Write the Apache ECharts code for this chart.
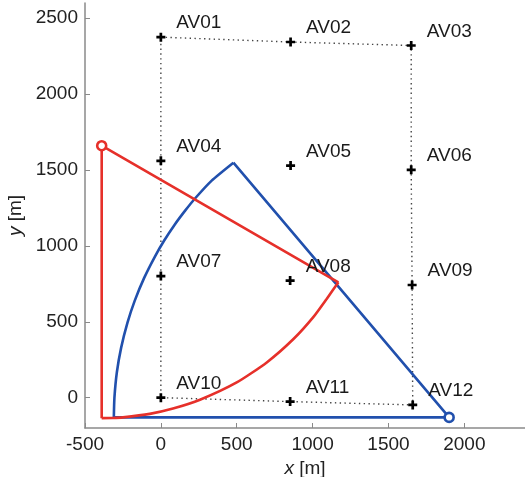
<!DOCTYPE html>
<html>
<head>
<meta charset="utf-8">
<script src="https://cdn.jsdelivr.net/npm/echarts@6/dist/echarts.min.js"></script>
<style>html,body{margin:0;padding:0;background:#fff;}#c{width:525px;height:477px;}</style>
</head>
<body>
<div id="c"></div>
<script>
// Measurement points
const avNames = ['AV01','AV02','AV03','AV04','AV05','AV06','AV07','AV08','AV09','AV10','AV11','AV12'];
const avX = [0, 855, 1650, 0, 855, 1650, 0, 852, 1656, 0, 852, 1660];
const avY = [2375, 2343, 2320, 1560, 1529, 1501, 801, 771, 742, 0, -26, -48];
// perimeter order (indices into avNames)
const perimeterOrder = [0, 1, 2, 5, 8, 11, 10, 9, 6, 3, 0];

// Red path: straight sides and arc
const redStraightX = [1170, -390, -390];
const redStraightY = [760, 1660, -135];
const redArcX = [-390, -320, -250, -73, 80, 258, 500, 698, 874, 1006, 1094, 1170];
const redArcY = [-135, -134, -130, -107, -72, -14, 100, 232, 386, 532, 652, 760];
const redStart = [-390, 1660];

// Blue path: straight sides and arc
const blueStraightX = [478, 1900, -310];
const blueStraightY = [1548, -130, -130];
const blueArcX = [-310, -306, -290, -262, -220, -172, -110, -40, 20, 92, 160, 225, 335, 478];
const blueArcY = [-130, 0, 167, 328, 494, 639, 789, 928, 1032, 1141, 1232, 1312, 1430, 1548];
const blueStart = [1900, -130];

// Tick labels
const xTicks = [-500, 0, 500, 1000, 1500, 2000];
const yTicks = [0, 500, 1000, 1500, 2000, 2500];

const RED = '#e6302a';
const BLUE = '#2150ad';
const FONT = '"Liberation Sans", Arial, sans-serif';
const FS = 19;

const zip = (xs, ys) => xs.map((x, i) => [x, ys[i]]);

const chart = echarts.init(document.getElementById('c'), null, {renderer: 'canvas'});
const plus = 'path://M3.5,0H6.5V3.5H10V6.5H6.5V10H3.5V6.5H0V3.5H3.5Z';

chart.setOption({
  animation: false,
  backgroundColor: '#fff',
  grid: {left: 85, right: 0, top: 3, bottom: 49, containLabel: false, outerBoundsMode: 'none'},
  xAxis: {
    type: 'value', min: -500, max: 2400,
    name: '{i|x} [m]', nameLocation: 'middle', nameGap: 30,
    nameTextStyle: {fontFamily: FONT, fontSize: FS, color: '#222', rich: {i: {fontStyle: 'italic', fontFamily: FONT, fontSize: FS, color: '#222'}}},
    axisLine: {show: true, onZero: false, lineStyle: {color: '#8a8a8a', width: 1.5}},
    axisTick: {show: true, inside: true, length: 5, customValues: xTicks, lineStyle: {color: '#8a8a8a'}},
    axisLabel: {customValues: xTicks, margin: 7, fontFamily: FONT, fontSize: FS, color: '#222', formatter: v => String(v)},
    splitLine: {show: false}
  },
  yAxis: {
    type: 'value', min: -200, max: 2600,
    name: '{i|y} [m]', nameLocation: 'middle', nameGap: 57, nameRotate: 90,
    nameTextStyle: {fontFamily: FONT, fontSize: FS, color: '#222', rich: {i: {fontStyle: 'italic', fontFamily: FONT, fontSize: FS, color: '#222'}}},
    axisLine: {show: true, onZero: false, lineStyle: {color: '#8a8a8a', width: 1.5}},
    axisTick: {show: true, inside: true, length: 5, customValues: yTicks, lineStyle: {color: '#8a8a8a'}},
    axisLabel: {customValues: yTicks, margin: 7, fontFamily: FONT, fontSize: FS, color: '#222', formatter: v => String(v)},
    splitLine: {show: false}
  },
  series: [
    {
      type: 'line', data: perimeterOrder.map(i => [avX[i], avY[i]]),
      symbol: 'none', lineStyle: {color: '#444', width: 1.4, type: [1.4, 3.4]}, z: 1
    },
    {
      type: 'line', data: zip(redStraightX, redStraightY), symbol: 'none',
      lineStyle: {color: RED, width: 2.6}, z: 3
    },
    {
      type: 'line', data: zip(redArcX, redArcY), symbol: 'none', smooth: 0.2,
      lineStyle: {color: RED, width: 2.6}, z: 3
    },
    {
      type: 'line', data: zip(blueStraightX, blueStraightY), symbol: 'none',
      lineStyle: {color: BLUE, width: 2.6}, z: 2
    },
    {
      type: 'line', data: zip(blueArcX, blueArcY), symbol: 'none', smooth: 0.2,
      lineStyle: {color: BLUE, width: 2.6}, z: 2
    },
    {
      type: 'scatter', data: [redStart], symbol: 'circle', symbolSize: 9,
      itemStyle: {color: '#fff', borderColor: RED, borderWidth: 2.6, opacity: 1}, z: 5
    },
    {
      type: 'scatter', data: [blueStart], symbol: 'circle', symbolSize: 9,
      itemStyle: {color: '#fff', borderColor: BLUE, borderWidth: 2.6, opacity: 1}, z: 5
    },
    {
      type: 'scatter', symbol: plus, symbolSize: 9,
      data: avNames.map((n, i) => ({name: n, value: [avX[i], avY[i]]})),
      itemStyle: {color: '#000', opacity: 1},
      label: {show: true, formatter: '{b}', position: 'right', distance: 5, offset: [6, -14],
        fontFamily: FONT, fontSize: FS, color: '#1a1a1a'},
      z: 6
    }
  ]
});
</script>
</body>
</html>
